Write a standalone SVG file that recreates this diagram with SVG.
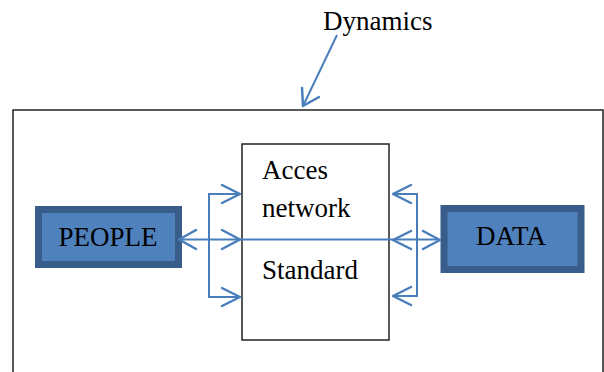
<svg xmlns="http://www.w3.org/2000/svg" width="604" height="372" viewBox="0 0 604 372">
<defs>
<style>
.t{font-family:"Liberation Serif","Times New Roman",serif;font-size:27px;fill:#000}
.c{stroke:#4a7ebb;stroke-width:2;fill:none}
.a{stroke:#4a7ebb;stroke-width:2.5;fill:none;stroke-linecap:round;stroke-linejoin:round}
.blk{fill:#4f81bd;stroke:#385d8a;stroke-width:7}
</style>
</defs>
<rect width="604" height="372" fill="#fff"/>
<g id="frame">
<rect x="13" y="110" width="590" height="300" fill="none" stroke="#222" stroke-width="1.5"/>
</g>
<g id="dynamics">
<text class="t" x="323" y="30">Dynamics</text>
</g>
<g id="core">
<rect x="242" y="144" width="147" height="196" fill="#fff" stroke="#222" stroke-width="1.5"/>
<text class="t" x="262" y="179">Acces</text>
<text class="t" x="262" y="217">network</text>
<text class="t" x="262" y="279">Standard</text>
</g>
<g id="people">
<rect class="blk" x="38.5" y="209.5" width="140" height="55"/>
<text class="t" x="108" y="246" text-anchor="middle">PEOPLE</text>
</g>
<g id="data">
<rect class="blk" x="444" y="208.5" width="137" height="61"/>
<text class="t" x="511" y="245" text-anchor="middle">DATA</text>
</g>
<g id="connectors">
<line class="c" x1="337" y1="35" x2="303" y2="106"/>
<polyline class="a" points="302,88 303,106 319,97"/>
<line class="c" x1="180" y1="239.5" x2="439" y2="239.5"/>
<polyline class="c" points="240,194 209,194 209,297 240,297"/>
<polyline class="a" points="222,185 240,194 222,203"/>
<polyline class="a" points="222,230 240,239.5 222,249"/>
<polyline class="a" points="222,288 240,297 222,306"/>
<polyline class="a" points="196,230 179,239.5 196,249"/>
<polyline class="c" points="393,194 417,194 417,296 393,296"/>
<polyline class="a" points="411,185 393,194 411,203"/>
<polyline class="a" points="411,231 393,240 411,249"/>
<polyline class="a" points="411,287 393,296 411,305"/>
<polyline class="a" points="423,231 440,240 423,249"/>
</g>
</svg>
